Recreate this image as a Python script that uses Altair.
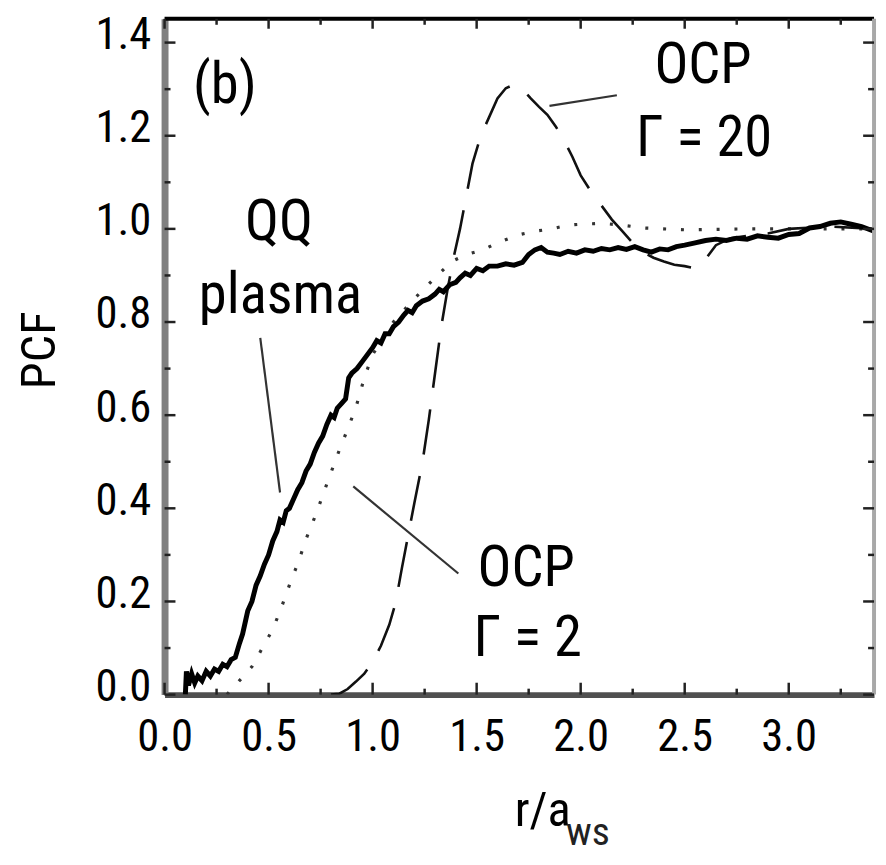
import altair as alt
import pandas as pd

# ---------------- data ----------------
X_MAX = 3.41
Y_MAX = 1.451

# QQ plasma (solid, noisy)
qq_r = [0.100, 0.105, 0.115, 0.130, 0.145, 0.160, 0.180, 0.200, 0.220, 0.240,
        0.260, 0.280, 0.300, 0.320, 0.340, 0.360, 0.375, 0.390, 0.400, 0.420,
        0.440, 0.460, 0.480, 0.500, 0.520, 0.540, 0.555, 0.570, 0.585, 0.600,
        0.620, 0.640, 0.660, 0.680, 0.700, 0.720, 0.740, 0.760, 0.780, 0.800,
        0.815, 0.830, 0.850, 0.870, 0.885, 0.900, 0.925, 0.950, 0.975, 1.000,
        1.020, 1.040, 1.060, 1.080, 1.100, 1.125, 1.150, 1.170, 1.190, 1.210,
        1.240, 1.270, 1.300, 1.320, 1.340, 1.370, 1.400, 1.420, 1.445, 1.470,
        1.500, 1.530, 1.560, 1.600, 1.640, 1.680, 1.720, 1.750, 1.780, 1.810,
        1.840, 1.870, 1.900, 1.940, 1.980, 2.020, 2.060, 2.100, 2.140, 2.180,
        2.220, 2.260, 2.300, 2.340, 2.380, 2.420, 2.460, 2.500, 2.550, 2.600,
        2.650, 2.700, 2.750, 2.800, 2.850, 2.900, 2.950, 3.000, 3.050, 3.100,
        3.150, 3.200, 3.250, 3.300, 3.350, 3.410]
qq_g = [0.000, 0.050, 0.020, 0.045, 0.025, 0.040, 0.030, 0.050, 0.040, 0.055,
        0.050, 0.065, 0.060, 0.075, 0.080, 0.110, 0.130, 0.160, 0.180, 0.200,
        0.235, 0.255, 0.280, 0.300, 0.330, 0.350, 0.375, 0.370, 0.395, 0.400,
        0.420, 0.440, 0.455, 0.480, 0.495, 0.520, 0.540, 0.555, 0.580, 0.600,
        0.595, 0.615, 0.625, 0.635, 0.680, 0.690, 0.700, 0.715, 0.730, 0.745,
        0.760, 0.755, 0.775, 0.775, 0.790, 0.800, 0.815, 0.825, 0.820, 0.835,
        0.845, 0.850, 0.860, 0.870, 0.865, 0.880, 0.885, 0.895, 0.905, 0.900,
        0.915, 0.910, 0.920, 0.920, 0.925, 0.922, 0.928, 0.945, 0.955, 0.960,
        0.950, 0.948, 0.945, 0.952, 0.948, 0.955, 0.952, 0.958, 0.955, 0.960,
        0.956, 0.962, 0.955, 0.950, 0.957, 0.955, 0.962, 0.965, 0.970, 0.975,
        0.978, 0.975, 0.980, 0.978, 0.985, 0.982, 0.980, 0.988, 0.990, 1.002,
        1.005, 1.012, 1.015, 1.010, 1.005, 0.995]

# OCP Gamma = 2 (dotted)
g2_r = [0.30, 0.34, 0.38, 0.42, 0.47, 0.52, 0.56, 0.60, 0.645, 0.68,
        0.73, 0.79, 0.84, 0.88, 0.92, 0.96, 1.00, 1.10, 1.20, 1.30,
        1.38, 1.45, 1.53, 1.60, 1.70, 1.78, 1.86, 1.94, 2.00, 2.10,
        2.20, 2.30, 2.50, 2.80, 3.10, 3.41]
g2_g = [0.000, 0.020, 0.040, 0.060, 0.100, 0.140, 0.185, 0.235, 0.287, 0.334,
        0.390, 0.465, 0.525, 0.570, 0.617, 0.680, 0.730, 0.800, 0.850, 0.895,
        0.930, 0.945, 0.955, 0.970, 0.987, 0.995, 1.000, 1.008, 1.010, 1.012,
        1.008, 1.002, 0.998, 1.000, 1.000, 1.000]

# OCP Gamma = 20 (long dashes)
g20_r = [0.80, 0.84, 0.88, 0.92, 0.96, 1.00, 1.04, 1.08, 1.11, 1.14,
         1.17, 1.20, 1.24, 1.27, 1.30, 1.33, 1.36, 1.39, 1.42, 1.45,
         1.48, 1.52, 1.56, 1.60, 1.64, 1.68, 1.72, 1.76, 1.80, 1.84,
         1.88, 1.92, 1.96, 2.00, 2.05, 2.10, 2.15, 2.20, 2.25, 2.30,
         2.35, 2.40, 2.45, 2.50, 2.55, 2.60, 2.65, 2.72, 2.80, 2.90,
         3.00, 3.20, 3.41]
g20_g = [0.000, 0.002, 0.012, 0.028, 0.045, 0.070, 0.105, 0.150, 0.196, 0.270,
         0.340, 0.410, 0.500, 0.590, 0.690, 0.790, 0.870, 0.940, 1.000, 1.070,
         1.140, 1.200, 1.240, 1.280, 1.302, 1.310, 1.300, 1.280, 1.262, 1.245,
         1.220, 1.190, 1.155, 1.115, 1.080, 1.050, 1.020, 0.995, 0.970, 0.950,
         0.938, 0.930, 0.923, 0.920, 0.915, 0.935, 0.965, 0.980, 0.985, 0.990,
         1.000, 1.005, 1.000]

# axis ticks
x_major = [0.0, 0.5, 1.0, 1.5, 2.0, 2.5, 3.0]
x_minor = [0.25, 0.75, 1.25, 1.75, 2.25, 2.75, 3.25]
y_major = [0.0, 0.2, 0.4, 0.6, 0.8, 1.0, 1.2, 1.4]
y_minor = [0.1, 0.3, 0.5, 0.7, 0.9, 1.1, 1.3]

# annotations (text, position in data units)
ann_text = ["(b)", "OCP", "\u0393 = 20", "QQ", "plasma", "OCP", "\u0393 = 2"]
ann_r = [0.290, 2.588, 2.593, 0.550, 0.557, 1.738, 1.745]
ann_g = [1.270, 1.313, 1.157, 0.977, 0.819, 0.234, 0.083]

# leader lines
lead_r = [0.460, 0.907, 1.850]
lead_g = [0.766, 0.447, 1.264]
lead_r2 = [0.555, 1.412, 2.174]
lead_g2 = [0.434, 0.260, 1.287]

# x-axis title with subscript
xt_text = ["r/a"]
xt_r = [1.683]
xt_g = [-0.283]
xs_text = ["ws"]
xs_r = [1.930]
xs_g = [-0.323]

# ---------------- chart ----------------
W, H = 716, 682
COND = "Roboto Condensed, Liberation Sans Narrow, Arial Narrow, Liberation Sans, sans-serif"

xs = alt.Scale(domain=[0, X_MAX], nice=False, zero=False)
ys = alt.Scale(domain=[0, Y_MAX], nice=False, zero=False)

xaxis = alt.Axis(values=x_major, format=".1f", tickSize=0, labelPadding=20,
                 labelFont=COND, labelFontSize=45, labelColor="black",
                 domainColor="#505050", domainWidth=6, grid=False, title=None,
                 labelFlush=False)
yaxis = alt.Axis(values=y_major, format=".1f", tickSize=0, labelPadding=14,
                 labelFont=COND, labelFontSize=45, labelColor="black",
                 labelOffset=-8, labelFlush=False,
                 domainColor="#808080", domainWidth=7, grid=False,
                 title="PCF", titleFont=COND, titleFontSize=49,
                 titleFontWeight="normal", titleColor="black",
                 titleX=-126, titleY=334, titleAlign="center",
                 titleBaseline="middle", titleAngle=-90)


def X(field):
    return alt.X(field, type="quantitative", scale=xs, axis=xaxis)


def Y(field):
    return alt.Y(field, type="quantitative", scale=ys, axis=yaxis)


df_qq = pd.DataFrame({"r": qq_r, "g": qq_g})
df_g2 = pd.DataFrame({"r": g2_r, "g": g2_g})
df_g20 = pd.DataFrame({"r": g20_r, "g": g20_g})

line_g2 = alt.Chart(df_g2).mark_line(
    color="#333333", strokeWidth=3.2, strokeDash=[3, 15], clip=True
).encode(x=X("r"), y=Y("g"))

line_g20 = alt.Chart(df_g20).mark_line(
    color="#111111", strokeWidth=2.6, strokeDash=[46, 22], clip=True
).encode(x=X("r"), y=Y("g"))

line_qq = alt.Chart(df_qq).mark_line(
    color="black", strokeWidth=5, clip=True
).encode(x=X("r"), y=Y("g"))

# frame: top and right edges
top_edge = alt.Chart(pd.DataFrame({"r": [0.0], "r2": [X_MAX], "g": [Y_MAX]})).mark_rule(
    color="black", strokeWidth=4).encode(x=X("r"), x2="r2", y=Y("g"))
right_edge = alt.Chart(pd.DataFrame({"r": [X_MAX], "g": [0.0], "g2": [Y_MAX]})).mark_rule(
    color="#a8a8a8", strokeWidth=4).encode(x=X("r"), y=Y("g"), y2="g2")


def xticks(vals, at, size, offset):
    d = pd.DataFrame({"r": vals, "g": [at] * len(vals)})
    return alt.Chart(d).mark_tick(orient="vertical", size=size, thickness=2.5,
                                  color="#222222", yOffset=offset,
                                  opacity=1).encode(x=X("r"), y=Y("g"))


def yticks(vals, at, size, offset):
    d = pd.DataFrame({"r": [at] * len(vals), "g": vals})
    return alt.Chart(d).mark_tick(orient="horizontal", size=size, thickness=2.5,
                                  color="#222222", xOffset=offset,
                                  opacity=1).encode(x=X("r"), y=Y("g"))


ticks = [
    xticks(x_major, 0.0, 12, -6), xticks(x_minor, 0.0, 6, -3),
    xticks(x_major, Y_MAX, 10, 5), xticks(x_minor, Y_MAX, 6, 3),
    yticks(y_major, 0.0, 11, 5.5), yticks(y_minor, 0.0, 6, 3),
    yticks(y_major, X_MAX, 11, -5.5), yticks(y_minor, X_MAX, 6, -3),
]

df_ann = pd.DataFrame({"r": ann_r, "g": ann_g, "t": ann_text})
ann = alt.Chart(df_ann).mark_text(
    font=COND, fontSize=57, align="center", baseline="alphabetic", color="black"
).encode(x=X("r"), y=Y("g"), text="t:N")

df_lead = pd.DataFrame({"r": lead_r, "g": lead_g, "r2": lead_r2, "g2": lead_g2})
leads = alt.Chart(df_lead).mark_rule(color="#333333", strokeWidth=2.2).encode(
    x=X("r"), y=Y("g"), x2="r2", y2="g2")

xt = alt.Chart(pd.DataFrame({"r": xt_r, "g": xt_g, "t": xt_text})).mark_text(
    font=COND, fontSize=49, align="left", baseline="alphabetic", color="black"
).encode(x=X("r"), y=Y("g"), text="t:N")
xsub = alt.Chart(pd.DataFrame({"r": xs_r, "g": xs_g, "t": xs_text})).mark_text(
    font=COND, fontSize=40, align="left", baseline="alphabetic", color="#222222"
).encode(x=X("r"), y=Y("g"), text="t:N")

chart = alt.layer(
    line_g2, line_g20, line_qq, top_edge, right_edge, *ticks, leads, ann, xt, xsub
).properties(
    width=W, height=H,
    autosize=alt.AutoSizeParams(type="none"),
    padding={"left": 158, "top": 7, "right": 4, "bottom": 166},
).configure_view(stroke=None)

chart.save("out.html", embed_options={"renderer": "svg", "actions": False})
